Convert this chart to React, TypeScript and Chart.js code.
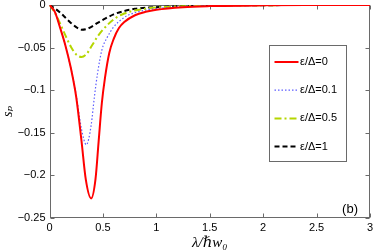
import React, { useEffect, useRef } from "react";
import { Chart, registerables } from "chart.js";

Chart.register(...registerables);

const redX = [0, 0.05, 0.1, 0.15, 0.2, 0.25, 0.3, 0.34, 0.39, 0.43, 0.46, 0.49, 0.52, 0.56, 0.6, 0.65, 0.7, 0.8, 0.9, 1, 1.25, 1.5, 2, 2.5, 3];
const redY = [0, -0.008, -0.027, -0.048, -0.074, -0.108, -0.16, -0.205, -0.227, -0.205, -0.16, -0.115, -0.085, -0.056, -0.04, -0.027, -0.02, -0.012, -0.008, -0.0055, -0.0025, -0.0013, -0.0004, -0.0001, 0];

const blueX = [0, 0.05, 0.1, 0.15, 0.2, 0.25, 0.3, 0.345, 0.39, 0.42, 0.45, 0.49, 0.54, 0.6, 0.7, 0.8, 1, 1.25, 1.5, 2, 2.5, 3];
const blueY = [0, -0.008, -0.027, -0.049, -0.074, -0.106, -0.146, -0.164, -0.141, -0.108, -0.08, -0.053, -0.038, -0.026, -0.0145, -0.009, -0.0042, -0.002, -0.001, -0.0003, -0.0001, 0];

const greenX = [0, 0.05, 0.1, 0.15, 0.2, 0.25, 0.3, 0.35, 0.4, 0.45, 0.5, 0.6, 0.7, 0.8, 1, 1.25, 1.5, 2, 2.5, 3];
const greenY = [0, -0.009, -0.022, -0.036, -0.049, -0.058, -0.061, -0.057, -0.047, -0.037, -0.029, -0.017, -0.01, -0.0065, -0.003, -0.0015, -0.0008, -0.0002, -0.0001, 0];

const blackX = [0, 0.05, 0.1, 0.15, 0.2, 0.25, 0.3, 0.35, 0.4, 0.45, 0.5, 0.6, 0.7, 0.8, 1, 1.25, 1.5, 2, 2.5, 3];
const blackY = [0, -0.004, -0.009, -0.015, -0.021, -0.026, -0.029, -0.028, -0.025, -0.021, -0.0175, -0.011, -0.007, -0.0045, -0.0025, -0.0012, -0.0006, -0.0002, -0.0001, 0];

const seriesLabels = ["ε/Δ=0", "ε/Δ=0.1", "ε/Δ=0.5", "ε/Δ=1"];
const xTicks = [0, 0.5, 1, 1.5, 2, 2.5, 3];
const yTicks = [0, -0.05, -0.1, -0.15, -0.2, -0.25];
const xTitle = "λ/ℏw₀";
const yTitle = "sₚ";
const panelLabel = "(b)";

const colors = ["#ff0000", "#5e5eff", "#b5d600", "#000000"];
const dashes: number[][] = [[], [1.5, 2], [7, 3, 2, 3], [5, 3]];
const widths = [2, 1.2, 2, 2];

const pts = (xs: number[], ys: number[]) => xs.map((x, i) => ({ x, y: ys[i] }));

const framePlugin = {
  id: "frame",
  beforeDatasetsDraw(chart: any) {
    const { ctx, chartArea } = chart;
    const xs = chart.scales.x;
    const ys = chart.scales.y;
    const l = Math.round(chartArea.left) + 0.5;
    const r = Math.round(chartArea.right) - 0.5;
    const t = Math.round(chartArea.top) + 0.5;
    const b = Math.round(chartArea.bottom) - 0.5;
    ctx.save();
    ctx.strokeStyle = "#6a6a6a";
    ctx.lineWidth = 1;
    ctx.strokeRect(l, t, r - l, b - t);
    ctx.beginPath();
    xTicks.forEach((v) => {
      const p = Math.round(xs.getPixelForValue(v)) + 0.5;
      ctx.moveTo(p, b);
      ctx.lineTo(p, b - 4);
      ctx.moveTo(p, t);
      ctx.lineTo(p, t + 4);
    });
    yTicks.forEach((v) => {
      const p = Math.round(ys.getPixelForValue(v)) + 0.5;
      ctx.moveTo(l, p);
      ctx.lineTo(l + 4, p);
      ctx.moveTo(r, p);
      ctx.lineTo(r - 4, p);
    });
    ctx.stroke();
    ctx.restore();
  },
  afterDraw(chart: any) {
    const { ctx, chartArea } = chart;
    ctx.save();
    const bx = Math.round(chartArea.right) - 100.5;
    const by = Math.round(chartArea.top) + 40.5;
    const bw = 77;
    const bh = 116;
    ctx.fillStyle = "#ffffff";
    ctx.fillRect(bx, by, bw, bh);
    ctx.strokeStyle = "#6a6a6a";
    ctx.lineWidth = 1;
    ctx.strokeRect(bx, by, bw, bh);
    ctx.font = "11px 'Liberation Sans', Arial, sans-serif";
    ctx.textBaseline = "middle";
    ctx.textAlign = "left";
    seriesLabels.forEach((lab, i) => {
      const yy = by + 16.5 + i * 28.2;
      ctx.beginPath();
      ctx.strokeStyle = colors[i];
      ctx.lineWidth = widths[i];
      ctx.setLineDash(dashes[i]);
      ctx.moveTo(bx + 5, yy);
      ctx.lineTo(bx + 29, yy);
      ctx.stroke();
      ctx.setLineDash([]);
      ctx.fillStyle = "#000";
      ctx.fillText(lab, bx + 30.5, yy);
    });
    ctx.font = "13px 'Liberation Sans', Arial, sans-serif";
    ctx.textAlign = "right";
    ctx.textBaseline = "middle";
    ctx.fillStyle = "#000";
    ctx.fillText(panelLabel, chartArea.right - 12, chartArea.bottom - 9);
    ctx.restore();
  },
};

export default function App() {
  const ref = useRef<HTMLCanvasElement>(null);
  useEffect(() => {
    if (!ref.current) return;
    const tickFont = { family: "'Liberation Sans', Arial, sans-serif", size: 11 };
    const chart = new Chart(ref.current, {
      type: "line",
      data: {
        datasets: [
          [redX, redY],
          [blueX, blueY],
          [greenX, greenY],
          [blackX, blackY],
        ].map(([xs, ys], i) => ({
          label: seriesLabels[i],
          data: pts(xs, ys),
          borderColor: colors[i],
          borderWidth: widths[i],
          borderDash: dashes[i],
          pointRadius: 0,
          fill: false,
          cubicInterpolationMode: "monotone" as const,
        })),
      },
      options: {
        animation: false,
        responsive: false,
        events: [],
        layout: { padding: { top: 5, right: 4, left: 0, bottom: 0 } },
        plugins: { legend: { display: false }, tooltip: { enabled: false } },
        scales: {
          x: {
            type: "linear",
            min: 0,
            max: 3,
            grid: { display: false, drawTicks: false },
            border: { display: false },
            ticks: {
              stepSize: 0.5,
              padding: 3,
              color: "#000",
              font: tickFont,
              maxRotation: 0,
              callback: (v: any) => String(Math.round(Number(v) * 100) / 100),
            },
            title: {
              display: true,
              text: xTitle,
              color: "#000",
              font: { family: "'Liberation Serif', 'DejaVu Serif', serif", size: 15, style: "italic", lineHeight: 1 },
              padding: { top: 0, bottom: 0 },
            },
            afterFit: (s: any) => {
              s.height = 33;
              s.paddingLeft = 0;
              s.paddingRight = 0;
            },
          },
          y: {
            type: "linear",
            min: -0.25,
            max: 0,
            grid: { display: false, drawTicks: false },
            border: { display: false },
            ticks: {
              stepSize: 0.05,
              padding: 4,
              color: "#000",
              font: tickFont,
              callback: (v: any) => {
                const n = Math.round(Number(v) * 100) / 100;
                return n === 0 ? "0" : "−" + String(Math.abs(n));
              },
            },
            title: {
              display: true,
              text: yTitle,
              color: "#000",
              font: { family: "'Liberation Serif', 'DejaVu Serif', serif", size: 14, style: "italic", lineHeight: 1 },
              padding: { top: 1, bottom: 0 },
            },
            afterFit: (s: any) => {
              s.width = 49.5;
              s.paddingTop = 0;
              s.paddingBottom = 0;
            },
          },
        },
      },
      plugins: [framePlugin],
    });
    return () => chart.destroy();
  }, []);
  return (
    <div style={{ position: "fixed", left: 0, top: 0, width: 374, height: 251, background: "#fff" }}>
      <canvas ref={ref} width={374} height={251} style={{ display: "block" }} />
    </div>
  );
}
